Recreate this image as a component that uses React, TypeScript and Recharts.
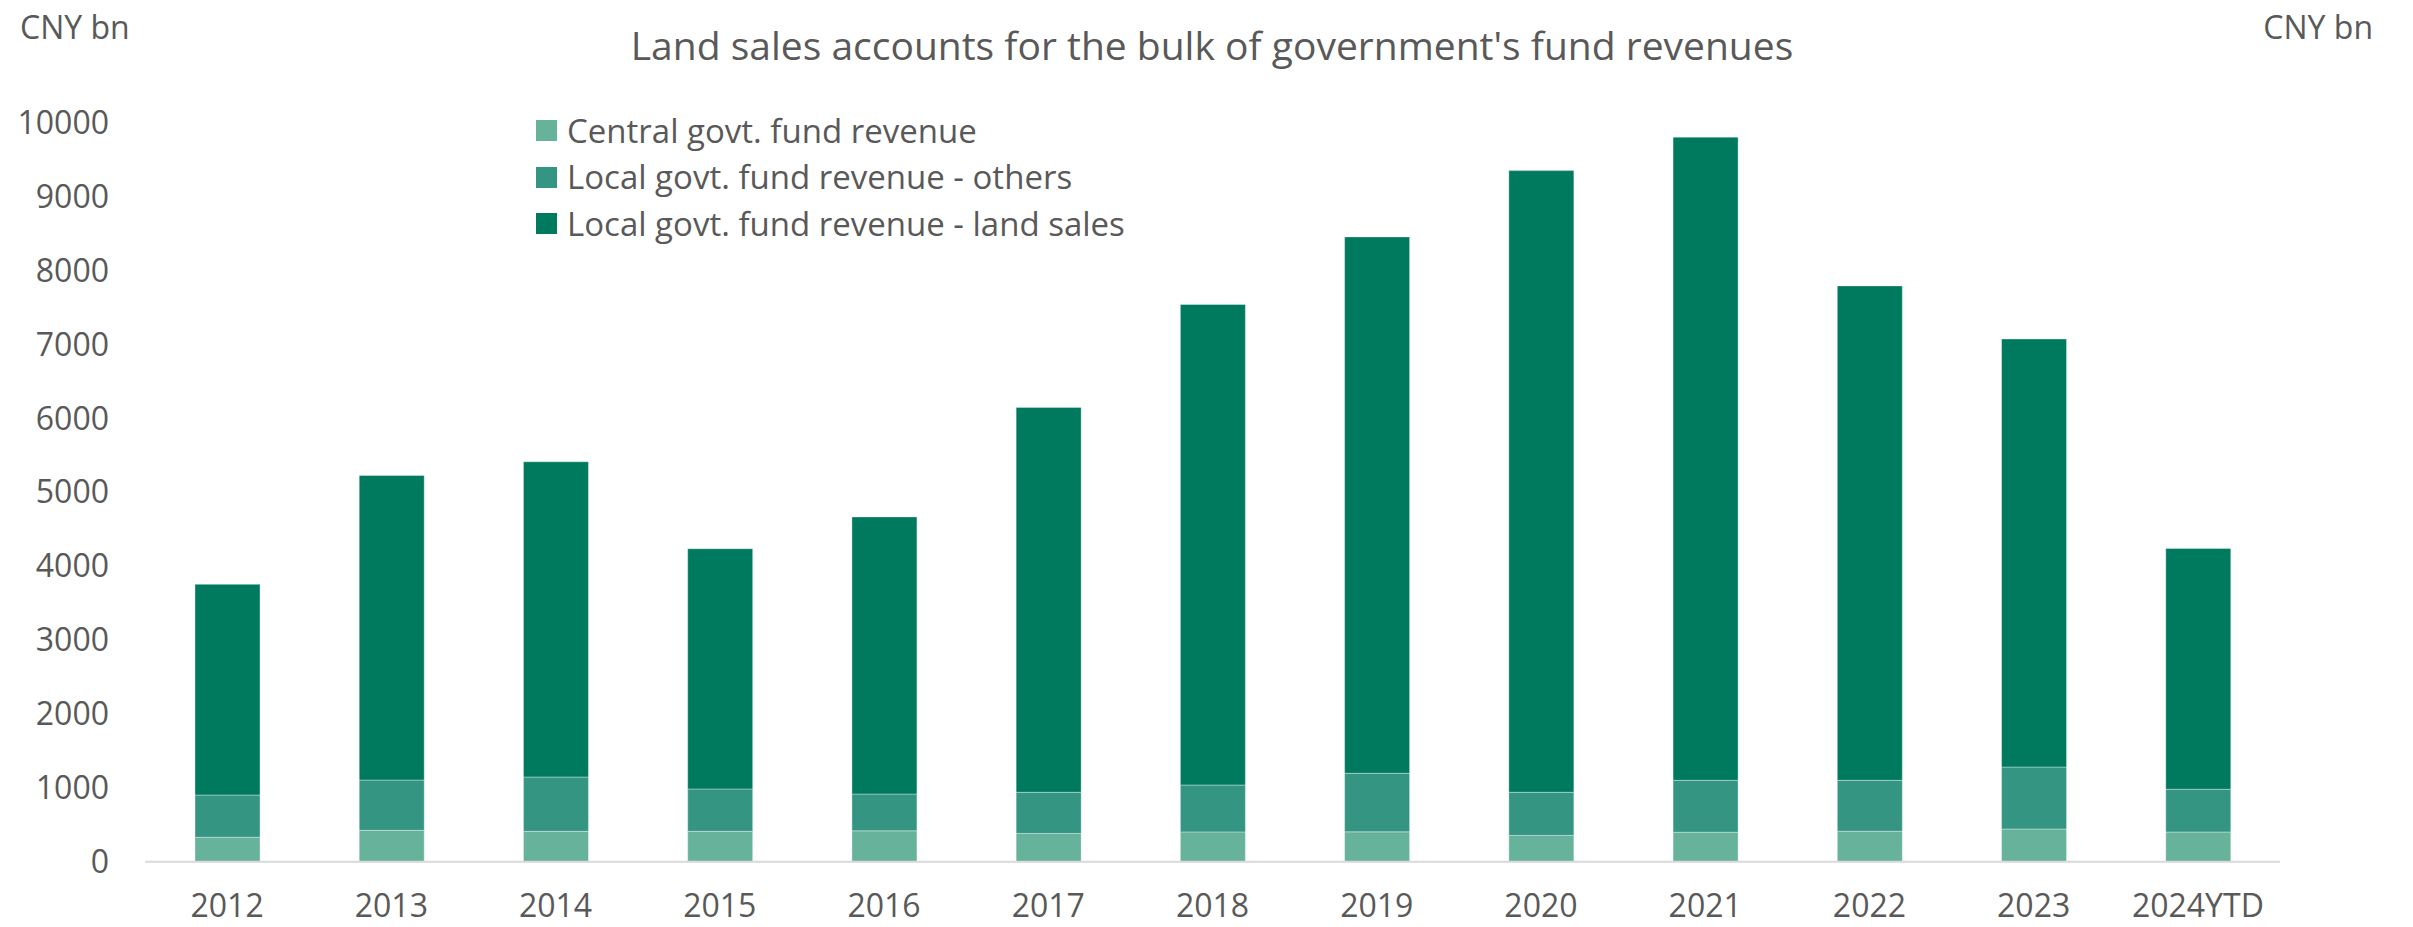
import React from 'react';
import { BarChart, Bar, XAxis, YAxis, Legend } from 'recharts';

const categories = ['2012', '2013', '2014', '2015', '2016', '2017', '2018', '2019', '2020', '2021', '2022', '2023', '2024YTD'];
const centralFund = [331, 424, 411, 411, 418, 382, 403, 404, 356, 399, 412, 443, 402];
const localOthers = [571, 681, 735, 573, 498, 557, 635, 792, 583, 702, 689, 838, 578];
const localLandSales = [2850, 4119, 4264, 3250, 3748, 5207, 6500, 7256, 8410, 8701, 6688, 5790, 3256];
const yTicks = [0, 1000, 2000, 3000, 4000, 5000, 6000, 7000, 8000, 9000, 10000];

const seriesOrder = ['central', 'others', 'land'];
const seriesNames: Record<string, string> = {
  central: 'Central govt. fund revenue',
  others: 'Local govt. fund revenue - others',
  land: 'Local govt. fund revenue - land sales',
};

const data = categories.map((c, i) => ({
  year: c,
  central: centralFund[i],
  others: localOthers[i],
  land: localLandSales[i],
}));

const FONT = '"Open Sans", "Noto Sans", sans-serif';
const TEXT = '#595959';
const W = 2413;
const H = 927;

const tickStyle = { fontSize: 32, fill: TEXT, fontFamily: FONT };

const LegendContent = (props: any) => {
  const items = [...(props.payload || [])].sort(
    (a: any, b: any) => seriesOrder.indexOf(a.dataKey) - seriesOrder.indexOf(b.dataKey)
  );
  return (
    <div style={{ fontFamily: FONT, fontSize: 33, color: TEXT }}>
      {items.map((it: any) => (
        <div key={it.value} style={{ display: 'flex', alignItems: 'center', height: 46.5, whiteSpace: 'nowrap' }}>
          <span style={{ display: 'inline-block', width: 21, height: 21, background: it.color, marginRight: 10 }} />
          <span style={{ lineHeight: '46.5px' }}>{it.value}</span>
        </div>
      ))}
    </div>
  );
};

export default function App() {
  return (
    <div style={{ position: 'absolute', left: 0, top: 0, width: W, height: H, background: '#fff' }}>
      <BarChart
        width={W}
        height={H}
        data={data}
        margin={{ top: 122.5, right: 0, bottom: 0, left: 0 }}
      >
        <XAxis
          dataKey="year"
          height={65.3}
          tickSize={0}
          tickMargin={33}
          tick={tickStyle}
          axisLine={{ stroke: '#D9D9D9', strokeWidth: 2 }}
          tickLine={false}
          interval={0}
        />
        <YAxis
          yAxisId="left"
          orientation="left"
          width={145}
          domain={[0, 10000]}
          ticks={yTicks}
          interval={0}
          tickSize={0}
          tickMargin={36}
          tick={tickStyle}
          axisLine={false}
          tickLine={false}
        />
        <YAxis
          yAxisId="right"
          orientation="right"
          width={133}
          domain={[0, 10000]}
          ticks={yTicks}
          interval={0}
          tickSize={0}
          tickMargin={36}
          tick={tickStyle}
          axisLine={false}
          tickLine={false}
        />
        <Legend
          layout="vertical"
          align="center"
          verticalAlign="middle"
          content={<LegendContent />}
          wrapperStyle={{ position: 'absolute', left: 536, top: 107.5, width: 760, height: 140 }}
        />
        <Bar yAxisId="left" dataKey="central" name={seriesNames.central} stackId="a" fill="#66B29A" stroke="#ffffff" strokeOpacity={0.35} strokeWidth={1} barSize={65} isAnimationActive={false} />
        <Bar yAxisId="left" dataKey="others" name={seriesNames.others} stackId="a" fill="#359583" stroke="#ffffff" strokeOpacity={0.35} strokeWidth={1} barSize={65} isAnimationActive={false} />
        <Bar yAxisId="left" dataKey="land" name={seriesNames.land} stackId="a" fill="#007A5F" stroke="#ffffff" strokeOpacity={0.35} strokeWidth={1} barSize={65} isAnimationActive={false} />
      </BarChart>
      <svg width={W} height={H} style={{ position: 'absolute', left: 0, top: 0, pointerEvents: 'none' }}>
        <text x={1212} y={60} textAnchor="middle" fontSize={39} fill={TEXT} fontFamily={FONT}>
          Land sales accounts for the bulk of government's fund revenues
        </text>
        <text x={20} y={39.3} textAnchor="start" fontSize={32} fill={TEXT} fontFamily={FONT}>CNY bn</text>
        <text x={2373} y={39.3} textAnchor="end" fontSize={32} fill={TEXT} fontFamily={FONT}>CNY bn</text>
      </svg>
    </div>
  );
}
